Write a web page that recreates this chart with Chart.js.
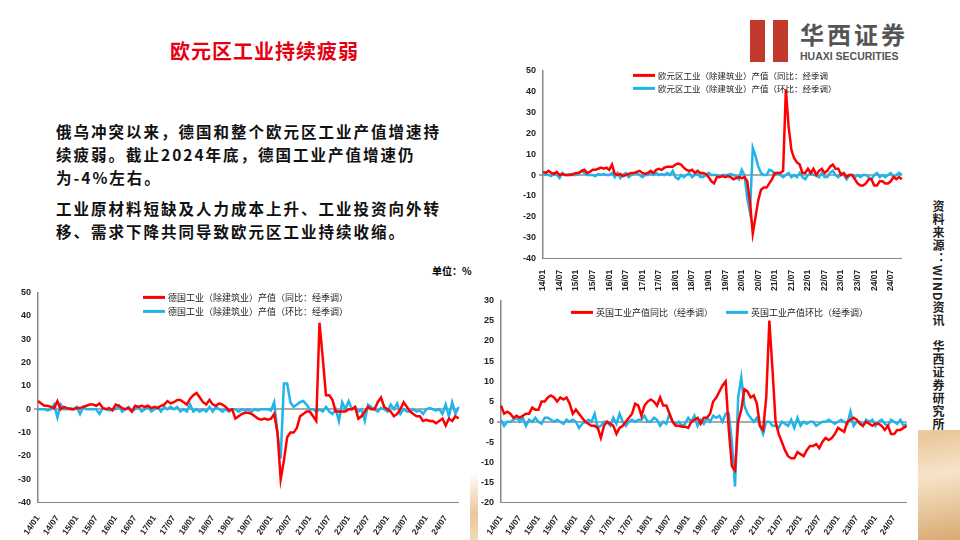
<!DOCTYPE html>
<html lang="zh">
<head>
<meta charset="UTF-8">
<title>欧元区工业持续疲弱</title>
<script src="https://cdn.jsdelivr.net/npm/chart.js"></script>
<style>
    body { margin: 0; width: 960px; height: 540px; overflow: hidden; background: #fff;
        font-family: "Noto Sans CJK SC", sans-serif; position: relative; }
    .deco { position: absolute; left: 0; bottom: 0; width: 960px; height: 110px;
        background: linear-gradient(170deg, #fff 0%, #fff 45%, #e9c79a 60%, #f6e4c9 75%, #d9a971 100%); }
    .title { position: absolute; left: 170px; top: 36px; color: #e60012; font-size: 20px; font-weight: bold; letter-spacing: 1px; }
    .body { position: absolute; left: 56px; top: 120px; width: 386px; font-size: 15.5px; font-weight: bold; color: #111; line-height: 23px; letter-spacing: 2px; }
    .body p { margin: 0 0 8px 0; }
    .logo { position: absolute; left: 750px; top: 18px; }
    .logo .mark { position: absolute; left: 0; top: 2px; width: 38px; height: 44px;
        background: linear-gradient(90deg, #c0392b 0 40%, #fff 40% 60%, #c0392b 60%); }
    .logo .cn { position: absolute; left: 50px; top: -2px; font-size: 24px; font-weight: bold; color: #555; letter-spacing: 3px; white-space: nowrap; }
    .logo .en { position: absolute; left: 50px; top: 32px; font-size: 10.5px; font-weight: bold; color: #555; font-family: "Liberation Sans"; white-space: nowrap; }
    .src { position: absolute; left: 930px; top: 200px; writing-mode: vertical-rl; font-size: 12px; font-weight: bold; color: #222; letter-spacing: 1px; }
    .unit { position: absolute; left: 432px; top: 263px; font-size: 10px; font-weight: bold; }
    .box { position: absolute; background: #fff; }
</style>
</head>
<body>
<div class="deco"></div>
<div class="title">欧元区工业持续疲弱</div>
<div class="logo"><div class="mark"></div><div class="cn">华西证券</div><div class="en">HUAXI SECURITIES</div></div>
<div class="body">
    <p>俄乌冲突以来，德国和整个欧元区工业产值增速持续疲弱。截止2024年底，德国工业产值增速仍为-4%左右。</p>
    <p>工业原材料短缺及人力成本上升、工业投资向外转移、需求下降共同导致欧元区工业持续收缩。</p>
</div>
<div class="src">资料来源：WIND资讯　华西证券研究所</div>
<div class="unit">单位：%</div>
<div class="box" style="left:520px;top:62px;width:395px;height:232px"><canvas id="ez"></canvas></div>
<div class="box" style="left:15px;top:284px;width:455px;height:256px"><canvas id="de"></canvas></div>
<div class="box" style="left:478px;top:292px;width:440px;height:248px"><canvas id="uk"></canvas></div>
<script>
const months = [];
for (let y = 14; y <= 24; y++) for (let m = 1; m <= 12; m++) months.push(y + '/' + String(m).padStart(2, '0'));

const ezYoY = [1.5,1,2,1,0.5,1.5,0,0.5,0,0,0,0.5, 1,1,2,2.5,1,1.5,2.5,2.5,3,3.5,3,3.5,
    2.5,5,0.5,0,0.5,-0.5,0,0.5,1,1,1.5,2, 1,0.5,1,2,1,2.5,3,2.5,3.5,4,4,4,
    5,5.5,5,3.5,2.5,2,2.5,1,2,1,1,0.5, -1,-3,-4,-1,-1,-0.5,-1,-0.5,-1,-2,-1.5,-1,
    -1.5,-1,-3,-13,-28,-20,-12,-7,-6,-6,-4,-2, 1,1,1,2,41,23,12,8,6,5,1,1,
    3,1,3,0,2,3,1,2,4,5,3,3, 0,1,-1,0,0,-2,-4,-5,-5,-4,-2,-2, -5,-5,-3,-3,-4,-4,-3,-1,-2,-1,-2,-2];
const ezMoM = [0,0.5,0,-0.5,1,0,-1.5,1,0,0,0.5,0, 0,1,2,1,0,0,0,-0.5,0.5,0,0.5,0,
    0,1,-1,1,-1.5,0,1,-1,0,1,1,0, -1,0,0,1,0,1,0,0.5,0,1,0,2,
    -1,-2,0,-1,0,1,-1,0,0.5,-1,-1,0, 1,0,0,0,-1,0,0,0,0.5,0,-0.5,-2,
    2.5,0,-11,-18,13,9,4,1,0,0,2.5,2, 0,1,0,-1,0,1,-1,0,-1,1,-1,-2,
    0,1,0,0,-1,1,-1,-1,1,2,0,-1, 1,0,-2,0,0,-1,0,-1,0,0,-1,-2, 0,1,-1,0,-1,0,1,-1,0,1,0,0];
const deYoY = [3.5,2.5,1.5,1.5,1,0.5,3.5,0,1,0.5,0,0, 0.5,0.5,1,1.5,2,2,1.5,2.5,0.5,0,0.5,-0.5,
    2,1.5,0.5,0,0.5,-1,1.5,1,1.5,1,1.5,0.5, 1,0.5,1.5,2,3.5,2.5,3,4,4,3,2,4.5,
    6,7,5,3,2,4,2,1.5,2.5,2,1,-0.5, 0,-4,-3,-2,-1.5,-1.5,-2,-3,-4,-4.5,-4,-4.5,
    -4,-2,-10,-30,-22,-12,-10,-10,-8,-3,-2,-1, -1,-3,-5,37,22,6,6,4,-1,-1,-1,-1,
    0,0,1,-4,-3,-1,1,0,0,3,5,1, 0,-1,-3,-2,0,3,1,-1,-2,-3,-3,-5, -4.5,-5,-5,-6,-5,-4,-7,-4,-5,-3,-4,-4];
const deMoM = [0,0,0,-0.5,0,2,-3.5,2,0,0,0.5,0, 1,-2,1,0,0,0,0,-2,0.5,0,-0.5,0,
    0,1.5,-1,0,1,-1,0,1,-1,0,1,-1, 0,1,-1,1,0,1,0,1,-1,0,-1,2,
    -1,0,-1,0,-1,1,-1,1,0,-1,0,-1, 0,0,-1,0,-0.5,0,-1,0,-0.5,0,0,0,
    -0.5,3,-10,-21,11,11,3,1,2,3,3.5,2, 0,0,-1,0,-1,1,-1,-2,0,-5,3,0,
    3.5,0,1,-1,0,-5,2,1,0,-1,0.5,0, -1,2,0,2.5,-2,0,-1,-1,0,-1,-0.5,-2, 0,0.5,0,-0.5,0,-2,2,-3,3,-2,1,-3];
const ukYoY = [4,2,2.5,2,1,1.5,1,1.5,2,2,3.5,3, 3,5,5,6,6.5,6,5,6,5.5,6,4.5,2,
    3,2,1,0,-0.5,-1,-1,-1.5,-4,-1,0,-0.5, -1,-3,-1.5,-1,0,1,2,4.5,4,1.5,4,5,
    5.5,5,4,6,4,4,2,0,-1,-1,-1.2,-1.2, -1.5,0,0.5,1,-0.5,1,1,2,5,6,7.5,9,
    10,-2,-11,-12,0,3,8,7.5,6,6.5,4.5,-1, -2,6,25,13,0,-3,-5,-7,-8.5,-9,-9,-7.5,
    -8,-8.5,-7,-6,-6,-5.5,-6.5,-5,-4,-4.5,-4,-3, -1.5,-2,-2.5,0,0.5,1,0.5,-0.5,-1,0,-0.5,-1,
    -0.5,-0.5,-1,-2,-1,-3,-3,-2,-2,-1.5,-1,-2];
const ukMoM = [0.5,-1,0,0,0.5,1,0,1,-1,0.5,0,1, 0,-0.5,1,1,0.5,0,0.5,0,-0.5,0.5,0,0.5,
    0,-1.5,-0.5,0,0.5,0,2,-1.5,-1,0,0,-1, 1,-0.5,2,0,-1,0,0.5,0,0.5,0.5,1.5,0,
    0,1,0.5,-1,0,-0.5,2,0,-0.5,0,-1,-0.5, 1,0,1.5,-1,0.5,-0.5,1,0,1.5,1,1.5,0,
    2,2,-5,-16,6,11,4,2,1,0,1,-1, -3,0,0,-1,-1,-1.5,0,-0.5,-1,0.5,-1.5,1,
    -1,0,-0.5,0,0,-1,-0.5,0,0,0.5,0,-0.5, 0,0.5,0,-0.5,2.5,-1,0,0,-1,0.5,0,0.5,
    -1,0,0.5,-0.5,-1,0.5,0,-0.5,0.5,-1,-0.5,-0.5];

const ezLabels = ['欧元区工业（除建筑业）产值（同比：经季调', '欧元区工业（除建筑业）产值（环比：经季调）'];
const deLabels = ['德国工业（除建筑业）产值（同比：经季调）', '德国工业（除建筑业）产值（环比：经季调）'];
const ukLabels = ['英国工业产值同比（经季调）', '英国工业产值环比（经季调）'];

// legend drawn inside the plot area, like the original
const innerLegend = {
    id: 'innerLegend',
    afterDraw(chart, args, opt) {
        const ctx = chart.ctx, a = chart.chartArea;
        ctx.save();
        ctx.font = opt.size + 'px "Noto Sans CJK SC"';
        ctx.textBaseline = 'middle';
        chart.data.datasets.forEach((ds, i) => {
            const x = a.left + opt.x[i], y = a.top + opt.y[i];
            ctx.strokeStyle = ds.borderColor; ctx.lineWidth = 3;
            ctx.beginPath(); ctx.moveTo(x, y); ctx.lineTo(x + 22, y); ctx.stroke();
            ctx.fillStyle = '#222'; ctx.fillText(ds.label, x + 25, y);
        });
        ctx.restore();
    }
};

function makeChart(id, labels, yoy, mom, names, yMin, yMax, step, rot, leg) {
    new Chart(document.getElementById(id), {
        type: 'line',
        data: {
            labels: labels,
            datasets: [
                { label: names[0], data: yoy, borderColor: '#ff0000', borderWidth: 2.5, pointRadius: 0, tension: 0 },
                { label: names[1], data: mom, borderColor: '#1fb4ea', borderWidth: 2.5, pointRadius: 0, tension: 0 }
            ]
        },
        options: {
            responsive: true, maintainAspectRatio: false, animation: false,
            layout: { padding: { top: 6, right: 8 } },
            plugins: { legend: { display: false }, tooltip: { enabled: false }, innerLegend: leg },
            scales: {
                x: {
                    grid: { display: false }, border: { color: '#888' },
                    ticks: { autoSkip: false, maxRotation: rot, minRotation: rot, color: '#222',
                        font: { family: 'Liberation Sans', weight: 'bold', size: 8.5 },
                        callback: (v, i) => (labels[i].endsWith('/01') || labels[i].endsWith('/07')) ? labels[i] : '' }
                },
                y: {
                    min: yMin, max: yMax,
                    ticks: { stepSize: step, color: '#222', font: { family: 'Liberation Sans', weight: 'bold', size: 9 } },
                    border: { color: '#888', width: 1.5 },
                    grid: { drawTicks: true, tickLength: 4,
                        color: c => c.tick && c.tick.value === 0 ? '#aaa' : 'rgba(0,0,0,0)',
                        lineWidth: c => c.tick && c.tick.value === 0 ? 2 : 0 }
                }
            }
        },
        plugins: [innerLegend]
    });
}

makeChart('ez', months.slice(0, 131), ezYoY.slice(0, 131), ezMoM.slice(0, 131), ezLabels, -40, 50, 10, 90,
    { size: 8.5, x: [90, 90], y: [5, 18] });
makeChart('de', months.slice(0, 131), deYoY.slice(0, 131), deMoM.slice(0, 131), deLabels, -40, 50, 10, 55,
    { size: 9, x: [105, 105], y: [5, 19] });
makeChart('uk', months.slice(0, 131), ukYoY.slice(0, 131), ukMoM.slice(0, 131), ukLabels, -20, 30, 5, 55,
    { size: 9, x: [70, 225], y: [12, 12] });
</script>
</body>
</html>
